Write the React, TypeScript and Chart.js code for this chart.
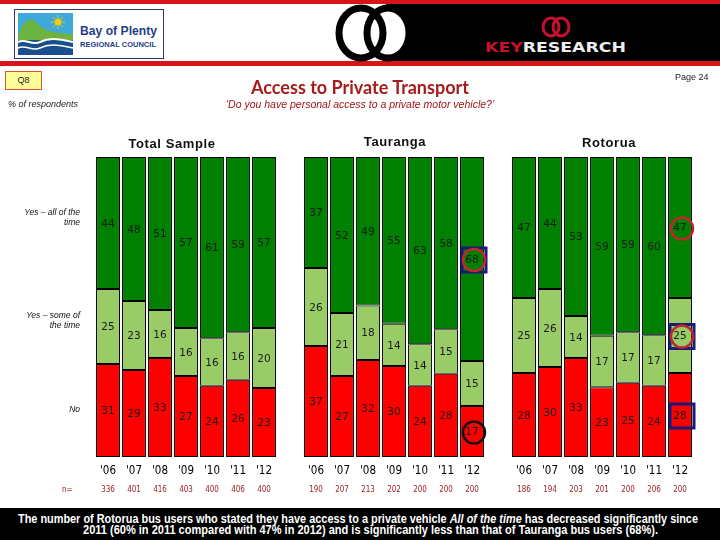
import React, { useEffect, useRef } from "react";
import { Chart, registerables } from "chart.js";

Chart.register(...registerables);

// ---------- data ----------
const years = ["'06", "'07", "'08", "'09", "'10", "'11", "'12"];
const groupTitles = ["Total Sample", "Tauranga", "Rotorua"];
const seriesNames = ["No", "Yes – some of the time", "Yes – all of the time"];

const totalNo = [31, 29, 33, 27, 24, 26, 23];
const totalSome = [25, 23, 16, 16, 16, 16, 20];
const totalAll = [44, 48, 51, 57, 61, 59, 57];

const taurangaNo = [37, 27, 32, 30, 24, 28, 17];
const taurangaSome = [26, 21, 18, 14, 14, 15, 15];
const taurangaAll = [37, 52, 49, 55, 63, 58, 68];

const rotoruaNo = [28, 30, 33, 23, 25, 24, 28];
const rotoruaSome = [25, 26, 14, 17, 17, 17, 25];
const rotoruaAll = [47, 44, 53, 59, 59, 60, 47];

const totalN = ["336", "401", "416", "403", "400", "406", "400"];
const taurangaN = ["190", "207", "213", "202", "200", "200", "200"];
const rotoruaN = ["186", "194", "203", "201", "200", "206", "200"];

const seriesColors = ["#FF0000", "#99CC66", "#008000"];

// highlighted values: series index (0 No, 1 Some, 2 All), group, year index
const marks = [
  { series: 2, group: 1, year: 6, square: true, circle: "#C0282D" },
  { series: 0, group: 1, year: 6, square: false, circle: "#111111" },
  { series: 2, group: 2, year: 6, square: false, circle: "#C0282D" },
  { series: 1, group: 2, year: 6, square: true, circle: "#C0282D" },
  { series: 0, group: 2, year: 6, square: true, circle: null },
];

// ---------- helpers ----------
function join<T>(a: T[], b: T[], c: T[], gap: T): T[] {
  return [...a, gap, ...b, gap, ...c];
}
const xLabels = join(years, years, years, "");
const nLabels = join(totalN, taurangaN, rotoruaN, "");
const rawSeries = [
  join<number | null>(totalNo, taurangaNo, rotoruaNo, null),
  join<number | null>(totalSome, taurangaSome, rotoruaSome, null),
  join<number | null>(totalAll, taurangaAll, rotoruaAll, null),
];
// 100% stacked: each bar normalised to its own total
const pctSeries = rawSeries.map((s) =>
  s.map((v, i) => {
    if (v === null) return null;
    const sum = (rawSeries[0][i] || 0) + (rawSeries[1][i] || 0) + (rawSeries[2][i] || 0);
    return (v / sum) * 100;
  })
);

const labelPlugin = {
  id: "valueLabels",
  afterDatasetsDraw(chart: any) {
    const ctx = chart.ctx;
    ctx.save();
    ctx.font = "10.5px 'DejaVu Sans', sans-serif";
    ctx.textAlign = "center";
    ctx.textBaseline = "middle";
    ctx.fillStyle = "#1a1a1a";
    rawSeries.forEach((s, di) => {
      const meta = chart.getDatasetMeta(di);
      meta.data.forEach((el: any, i: number) => {
        const v = s[i];
        if (v === null || v === undefined) return;
        const p = el.getProps(["x", "y", "base"], true);
        ctx.fillText(String(v), p.x, (p.y + p.base) / 2 + 1);
      });
    });
    // highlight markers
    marks.forEach((m) => {
      const idx = m.group * 8 + m.year;
      const el: any = chart.getDatasetMeta(m.series).data[idx];
      if (!el) return;
      const p = el.getProps(["x", "y", "base"], true);
      const cx = p.x + 2;
      const cy = (p.y + p.base) / 2 + 1;
      if (m.square) {
        ctx.strokeStyle = "#1A1A7A";
        ctx.lineWidth = 3;
        ctx.strokeRect(cx - 12, cy - 12, 24, 24);
      }
      if (m.circle) {
        ctx.strokeStyle = m.circle;
        ctx.lineWidth = 2.5;
        ctx.beginPath();
        ctx.arc(cx, cy, 11, 0, Math.PI * 2);
        ctx.stroke();
      }
    });
    ctx.restore();
  },
};

const narrow = "'DejaVu Sans Condensed', 'Liberation Sans', sans-serif";

function Txt(props: {
  x: number;
  y: number;
  align?: "left" | "center" | "right";
  style?: React.CSSProperties;
  children: React.ReactNode;
}) {
  const { x, y, align = "left", style, children } = props;
  const s: React.CSSProperties = {
    position: "absolute",
    top: y - 10,
    height: 20,
    lineHeight: "20px",
    whiteSpace: "nowrap",
    ...style,
  };
  if (align === "left") s.left = x;
  else if (align === "center") {
    s.left = x;
    s.transform = "translateX(-50%)";
  } else {
    s.right = 720 - x;
  }
  return <div style={s}>{children}</div>;
}

function Header() {
  return (
    <svg width={720} height={68} style={{ position: "absolute", left: 0, top: 0 }}>
      <rect x={0} y={0} width={720} height={4} fill="#D7141A" />
      <rect x={0} y={61} width={720} height={5} fill="#D7141A" />
      {/* key research block */}
      <rect x={386} y={4} width={334} height={57} fill="#000" />
      <ellipse cx={388} cy={33} rx={22} ry={26} fill="#fff" />
      <ellipse cx={361} cy={33} rx={22} ry={25} fill="none" stroke="#000" strokeWidth={7} />
      <ellipse cx={388} cy={33} rx={21} ry={25} fill="none" stroke="#000" strokeWidth={7} />
      <ellipse cx={551} cy={27} rx={8} ry={9} fill="none" stroke="#C8102E" strokeWidth={3} />
      <ellipse cx={561} cy={27} rx={8} ry={9} fill="none" stroke="#C8102E" strokeWidth={3} />
      <text
        x={485}
        y={52}
        textLength={141}
        lengthAdjust="spacingAndGlyphs"
        style={{ font: "bold 14px 'DejaVu Sans', sans-serif" }}
      >
        <tspan fill="#C8102E">KEY</tspan>
        <tspan fill="#EDEDED">RESEARCH</tspan>
      </text>
      {/* Bay of Plenty logo */}
      <rect x={14.5} y={9.5} width={149} height={49} fill="#fff" stroke="#2B3A67" strokeWidth={1} />
      <rect x={18} y={13} width={55} height={26} fill="#3FA9DC" />
      <path d="M18 36 C22 22, 30 16, 36 22 C42 30, 52 33, 73 34 L73 42 L18 42 Z" fill="#6DB33F" />
      <rect x={18} y={40} width={55} height={15} fill="#1A4E8C" />
      <path d="M18 42 C26 38, 32 46, 40 42 S56 38, 73 42" stroke="#fff" strokeWidth={2} fill="none" />
      <path d="M18 48 C26 44, 32 52, 40 48 S56 44, 73 48" stroke="#fff" strokeWidth={1.5} fill="none" />
      <circle cx={58} cy={22} r={3.5} fill="#F5D000" />
      <g stroke="#F5D000" strokeWidth={1}>
        <line x1={58} y1={15} x2={58} y2={17.5} />
        <line x1={58} y1={26.5} x2={58} y2={29} />
        <line x1={51} y1={22} x2={53.5} y2={22} />
        <line x1={62.5} y1={22} x2={65} y2={22} />
        <line x1={53} y1={17} x2={54.8} y2={18.8} />
        <line x1={61.2} y1={25.2} x2={63} y2={27} />
        <line x1={53} y1={27} x2={54.8} y2={25.2} />
        <line x1={61.2} y1={18.8} x2={63} y2={17} />
      </g>
      <text
        x={80}
        y={35}
        textLength={77}
        lengthAdjust="spacingAndGlyphs"
        fill="#1F3F8A"
        style={{ font: "bold 12.5px 'Liberation Sans', sans-serif" }}
      >
        Bay of Plenty
      </text>
      <text
        x={80}
        y={47}
        textLength={76}
        lengthAdjust="spacingAndGlyphs"
        fill="#1F3F8A"
        style={{ font: "bold 7px 'Liberation Sans', sans-serif" }}
      >
        REGIONAL COUNCIL
      </text>
    </svg>
  );
}

function Footer() {
  const f = "bold 12px 'Liberation Sans', sans-serif";
  return (
    <svg width={720} height={32} style={{ position: "absolute", left: 0, top: 508 }}>
      <rect x={0} y={0} width={720} height={32} fill="#000" />
      <text x={18} y={15} textLength={680} lengthAdjust="spacingAndGlyphs" fill="#fff" style={{ font: f }}>
        The number of Rotorua bus users who stated they have access to a private vehicle{" "}
        <tspan fontStyle="italic">All of the time</tspan> has decreased significantly since
      </text>
      <text x={83} y={26} textLength={575} lengthAdjust="spacingAndGlyphs" fill="#fff" style={{ font: f }}>
        2011 (60% in 2011 compared with 47% in 2012) and is significantly less than that of Tauranga bus users (68%).
      </text>
    </svg>
  );
}

export default function App() {
  const canvasRef = useRef<HTMLCanvasElement | null>(null);

  useEffect(() => {
    if (!canvasRef.current) return;
    const chart = new Chart(canvasRef.current, {
      type: "bar",
      data: {
        labels: xLabels,
        datasets: pctSeries.map((d, i) => ({
          label: seriesNames[i],
          data: d,
          backgroundColor: seriesColors[i],
          borderColor: "#000",
          borderWidth: 1,
          borderSkipped: false,
          categoryPercentage: 1,
          barPercentage: 0.92,
        })),
      },
      options: {
        responsive: false,
        animation: false,
        layout: { padding: { left: 95, right: 27, top: 157, bottom: 41 } },
        plugins: { legend: { display: false }, tooltip: { enabled: false } },
        scales: {
          x: {
            stacked: true,
            offset: true,
            weight: 0,
            grid: { display: false, drawTicks: false },
            border: { display: false },
            ticks: {
              autoSkip: false,
              maxRotation: 0,
              padding: 7,
              color: "#000",
              font: { family: narrow, size: 11.5 },
            },
            afterFit: (s: any) => {
              s.height = 22;
            },
          },
          x2: {
            type: "category",
            labels: nLabels,
            position: "bottom",
            offset: true,
            weight: 1,
            grid: { display: false, drawTicks: false },
            border: { display: false },
            ticks: {
              autoSkip: false,
              maxRotation: 0,
              padding: 6,
              color: "#9B2226",
              font: { family: narrow, size: 8 },
            },
            afterFit: (s: any) => {
              s.height = 20;
            },
          },
          y: { stacked: true, min: 0, max: 100, display: false },
        },
      } as any,
      plugins: [labelPlugin],
    });
    return () => chart.destroy();
  }, []);

  const rowLabel: React.CSSProperties = {
    fontFamily: "'Liberation Sans', sans-serif",
    fontStyle: "italic",
    fontSize: 8.5,
    color: "#111",
    lineHeight: "10px",
    height: 10,
  };

  return (
    <div
      style={{
        position: "absolute",
        left: 0,
        top: 0,
        width: 720,
        height: 540,
        overflow: "hidden",
        background: "#fff",
        fontFamily: "'Liberation Sans', sans-serif",
      }}
    >
      <Header />
      <canvas ref={canvasRef} width={720} height={540} style={{ position: "absolute", left: 0, top: 0 }} />

      <div
        style={{
          position: "absolute",
          left: 5,
          top: 71,
          width: 37,
          height: 19,
          boxSizing: "border-box",
          background: "#FFFF99",
          border: "1px solid #E0552B",
          fontSize: 9,
          lineHeight: "17px",
          textAlign: "center",
          color: "#222",
        }}
      >
        Q8
      </div>
      <Txt x={675} y={77} style={{ fontSize: 9, color: "#222" }}>
        Page 24
      </Txt>
      <Txt x={8} y={104} style={{ fontSize: 9, fontStyle: "italic", color: "#222" }}>
        % of respondents
      </Txt>
      <Txt
        x={360}
        y={87}
        align="center"
        style={{ fontFamily: "Lato, sans-serif", fontSize: 18, fontWeight: 700, color: "#A61C1C" }}
      >
        Access to Private Transport
      </Txt>
      <Txt x={360} y={104} align="center" style={{ fontSize: 10.5, fontStyle: "italic", color: "#A01414" }}>
        ‘Do you have personal access to a private motor vehicle?’
      </Txt>

      <Txt x={172} y={144} align="center" style={{ fontSize: 13, fontWeight: 700, letterSpacing: 0.6, color: "#111" }}>
        {groupTitles[0]}
      </Txt>
      <Txt x={395} y={142} align="center" style={{ fontSize: 13, fontWeight: 700, letterSpacing: 0.6, color: "#111" }}>
        {groupTitles[1]}
      </Txt>
      <Txt x={609} y={143} align="center" style={{ fontSize: 13, fontWeight: 700, letterSpacing: 0.6, color: "#111" }}>
        {groupTitles[2]}
      </Txt>

      <Txt x={80} y={217} align="right" style={rowLabel}>Yes – all of the</Txt>
      <Txt x={80} y={227} align="right" style={rowLabel}>time</Txt>
      <Txt x={80} y={320} align="right" style={rowLabel}>Yes – some of</Txt>
      <Txt x={80} y={330} align="right" style={rowLabel}>the time</Txt>
      <Txt x={80} y={414} align="right" style={rowLabel}>No</Txt>

      <Txt x={62} y={490} style={{ fontFamily: narrow, fontSize: 8, color: "#9B2226" }}>
        n=
      </Txt>

      <Footer />
    </div>
  );
}
